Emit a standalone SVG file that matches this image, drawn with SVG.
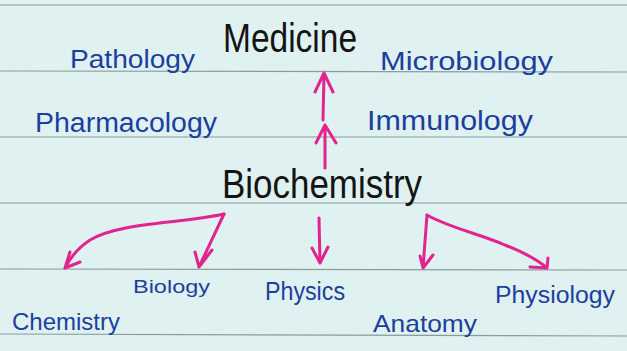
<svg xmlns="http://www.w3.org/2000/svg" width="627" height="351" viewBox="0 0 627 351">
<style>
.bg{fill:#dff1f1}
.rule{stroke:#8c9c9c;stroke-width:1.2}
.main{font-family:"Liberation Sans",Arial,sans-serif;fill:#141414}
.sub{font-family:"Liberation Sans",Arial,sans-serif;fill:#1c3f9e}
.arr{fill:none;stroke:#e3238e;stroke-width:3;stroke-linecap:round;stroke-linejoin:round}
</style>
<rect class="bg" x="0" y="0" width="627" height="351"/>
<g id="ruling">
<line class="rule" x1="0" y1="5" x2="627" y2="5"/>
<line class="rule" x1="0" y1="71" x2="627" y2="72"/>
<line class="rule" x1="0" y1="137" x2="627" y2="137"/>
<line class="rule" x1="0" y1="203" x2="627" y2="203"/>
<line class="rule" x1="0" y1="269" x2="627" y2="270"/>
<line class="rule" x1="0" y1="334" x2="627" y2="336"/>
</g>
<g id="connectors">
<path class="arr" d="M325 168 L325 125 M316 143 L325 125 L336 143"/>
<path class="arr" d="M323 120 L324 73 M315 92 L324 73 L333 92"/>
<path class="arr" d="M224 214 C180 224 120 222 90 240 C78 248 70 258 65 268 M70 252 L65 268 L80 262"/>
<path class="arr" d="M224 214 L199 267 M195 252 L199 267 L212 250"/>
<path class="arr" d="M319 218 L320 263 M312 248 L320 263 L328 247"/>
<path class="arr" d="M427 215 L423 268 M420 256 L423 268 L433 255"/>
<path class="arr" d="M427 215 C450 228 480 234 505 245 C525 253 538 260 547 268 M530 267 L547 268 L548 258"/>
</g>
<g id="medicine"><text class="main" x="223" y="52" font-size="40" textLength="134" lengthAdjust="spacingAndGlyphs">Medicine</text></g>
<g id="biochemistry"><text class="main" x="222" y="198" font-size="40" textLength="200" lengthAdjust="spacingAndGlyphs">Biochemistry</text></g>
<g id="pathology"><text class="sub" x="70" y="68" font-size="25" textLength="125" lengthAdjust="spacingAndGlyphs">Pathology</text></g>
<g id="pharmacology"><text class="sub" x="35" y="132" font-size="27" textLength="182" lengthAdjust="spacingAndGlyphs">Pharmacology</text></g>
<g id="microbiology"><text class="sub" x="380" y="70" font-size="25" textLength="173" lengthAdjust="spacingAndGlyphs">Microbiology</text></g>
<g id="immunology"><text class="sub" x="367" y="130" font-size="27" textLength="166" lengthAdjust="spacingAndGlyphs">Immunology</text></g>
<g id="biology"><text class="sub" x="133" y="293" font-size="19" textLength="77" lengthAdjust="spacingAndGlyphs">Biology</text></g>
<g id="physics"><text class="sub" x="265" y="300" font-size="25" textLength="80" lengthAdjust="spacingAndGlyphs">Physics</text></g>
<g id="chemistry"><text class="sub" x="12" y="330" font-size="24" textLength="108" lengthAdjust="spacingAndGlyphs">Chemistry</text></g>
<g id="anatomy"><text class="sub" x="373" y="332" font-size="24" textLength="104" lengthAdjust="spacingAndGlyphs">Anatomy</text></g>
<g id="physiology"><text class="sub" x="495" y="303" font-size="23" textLength="120" lengthAdjust="spacingAndGlyphs">Physiology</text></g>
</svg>
